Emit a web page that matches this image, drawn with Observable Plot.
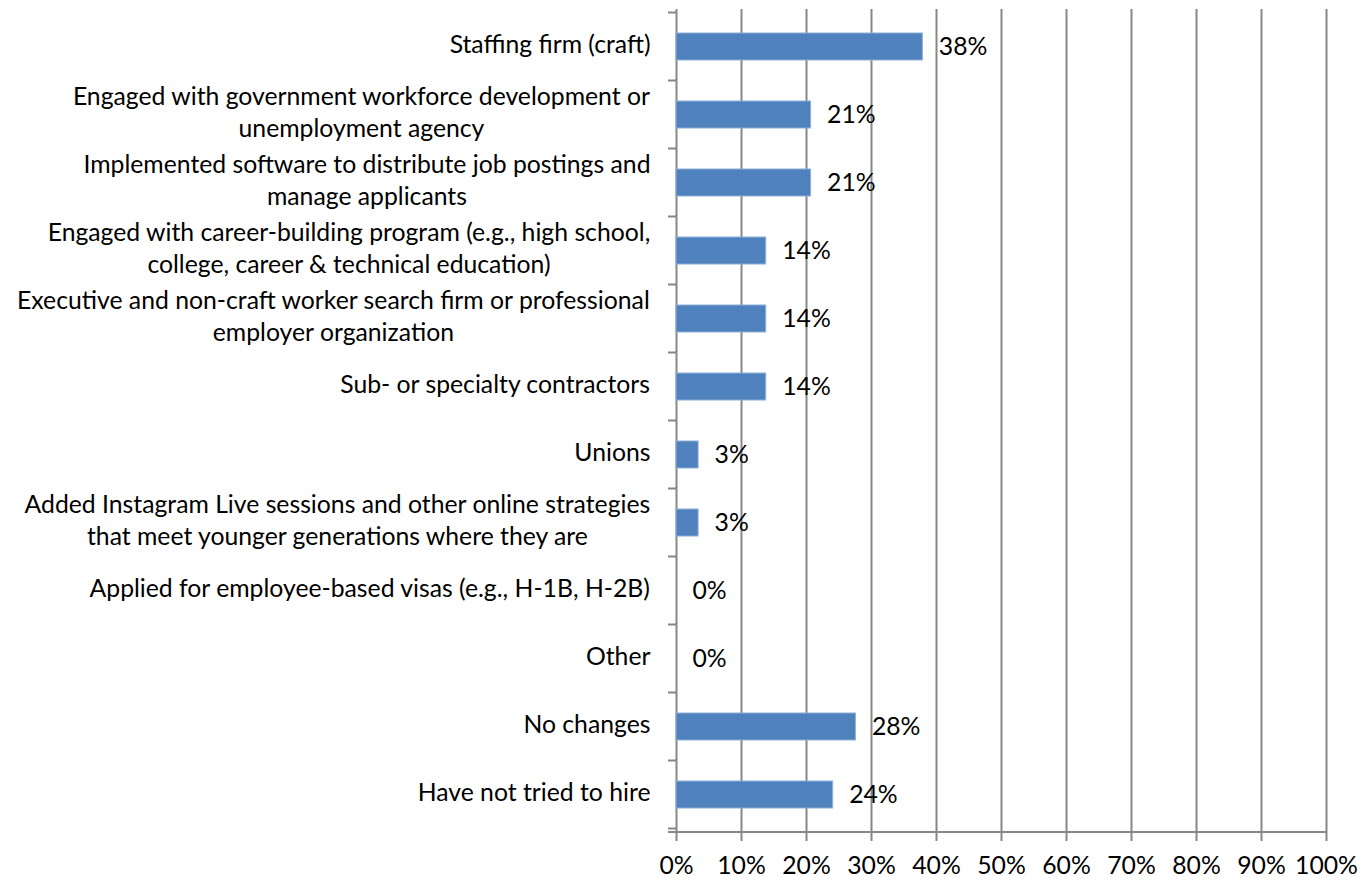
<!DOCTYPE html>
<html><head><meta charset="utf-8">
<script src="https://cdn.jsdelivr.net/npm/d3@7"></script>
<script src="https://cdn.jsdelivr.net/npm/@observablehq/plot@0.6"></script>
<style>html,body{margin:0;padding:0;background:#fff;}</style>
</head><body><div id="chart"></div>
<script>
const categories = [
  "Staffing firm (craft)",
  "Engaged with government workforce development or\nunemployment agency",
  "Implemented software to distribute job postings and\nmanage applicants",
  "Engaged with career-building program (e.g., high school,\ncollege, career & technical education)",
  "Executive and non-craft worker search firm or professional\nemployer organization",
  "Sub- or specialty contractors",
  "Unions",
  "Added Instagram Live sessions and other online strategies\nthat meet younger generations where they are",
  "Applied for employee-based visas (e.g., H-1B, H-2B)",
  "Other",
  "No changes",
  "Have not tried to hire"
];
const values = [37.9, 20.7, 20.7, 13.8, 13.8, 13.8, 3.4, 3.4, 0, 0, 27.6, 24.1];
const valueLabels = ["38%", "21%", "21%", "14%", "14%", "14%", "3%", "3%", "0%", "0%", "28%", "24%"];
const xTicks = [0, 10, 20, 30, 40, 50, 60, 70, 80, 90, 100];

const data = categories.map((c, i) => ({cat: c, value: values[i], label: valueLabels[i]}));

const FONT = "Lato";
const ctx = document.createElement("canvas").getContext("2d");
function tw(s, size) { ctx.font = `${size}px ${FONT}`; return ctx.measureText(s).width; }
const longest = "Added Instagram Live sessions and other online strategies";
let fs = Math.round(100 * 626 / tw(longest, 100) * 4) / 4;
fs = Math.min(26, fs);

const W = 1372, H = 880;
const mL = 676, mR = 46, mT = 9, mB = 48;
const gridColor = "#878787";

const labelMarks = categories.map(c => {
  const maxW = Math.max(...c.split("\n").map(l => tw(l, fs)));
  return Plot.text([c], {
    y: d => d, frameAnchor: "left", textAnchor: "middle", lineAnchor: "middle",
    lineHeight: 32 / fs, dx: -26 - maxW / 2, dy: -4, fontSize: fs, fill: "#000"
  });
});

function axisDecor(index, scales, values, dims) {
  const y = scales.y;
  const bw = y.bandwidth ? y.bandwidth() : 0;
  const step = y(categories[1]) - y(categories[0]);
  const g = d3.create("svg:g").attr("stroke", gridColor).attr("stroke-width", 2);
  const x0 = dims.marginLeft;
  const yb = categories.map(c => y(c) + bw / 2 - step / 2);
  yb.push(y(categories[categories.length - 1]) + bw / 2 + step / 2);
  for (const v of yb) {
    g.append("line").attr("x1", x0 - 8).attr("x2", x0).attr("y1", v).attr("y2", v);
  }
  const yBottom = dims.height - dims.marginBottom;
  g.append("line").attr("x1", x0 - 8).attr("x2", dims.width - dims.marginRight)
    .attr("y1", yBottom).attr("y2", yBottom);
  return g.node();
}

const chart = Plot.plot({
  width: W, height: H,
  marginLeft: mL, marginRight: mR, marginTop: mT, marginBottom: mB,
  style: {fontFamily: FONT, fontSize: fs + "px", color: "#000", background: "#fff"},
  x: {domain: [0, 100], axis: null},
  y: {domain: categories, paddingInner: 0.6, paddingOuter: 0.3, axis: null},
  marks: [
    Plot.gridX(xTicks, {stroke: gridColor, strokeOpacity: 1, strokeWidth: 2}),
    Plot.barX(data, {x: "value", y: "cat", fill: "#4F81BD", stroke: "#8FAFD8", strokeWidth: 1}),
    Plot.text(data, {x: "value", y: "cat", text: "label", textAnchor: "start", dx: 16, dy: 0, fontSize: fs, fill: "#000"}),
    axisDecor,
    Plot.axisX({ticks: xTicks, tickSize: 9, tickPadding: 15, tickFormat: d => d + "%", label: null,
      stroke: gridColor, strokeWidth: 2, fontSize: fs, fill: "#000"}),
    ...labelMarks
  ]
});
document.getElementById("chart").appendChild(chart);
</script>
</body></html>
